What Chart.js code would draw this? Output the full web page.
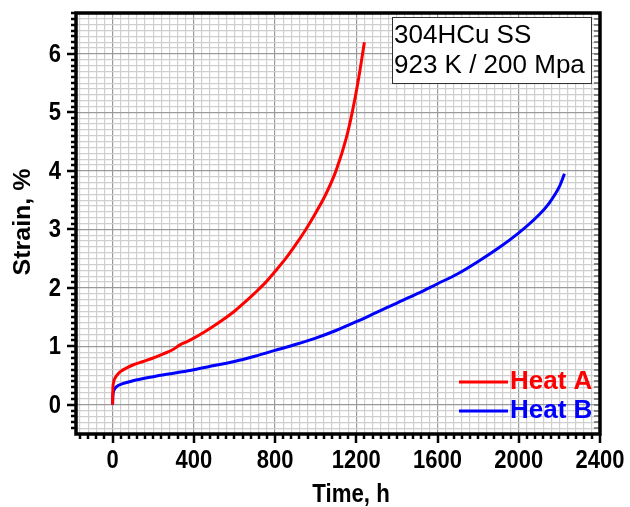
<!DOCTYPE html>
<html>
<head>
<meta charset="utf-8">
<script src="https://cdn.jsdelivr.net/npm/chart.js@4/dist/chart.umd.min.js"></script>
<style>
  html, body { margin: 0; padding: 0; background: #fff; }
  canvas { display: block; }
</style>
</head>
<body>
<canvas id="c" width="630" height="507"></canvas>
<script>
// ── data ──────────────────────────────────────────────────────────
const heatA_t = [0, 2, 5, 10, 20, 40, 70, 100, 150, 200, 250, 300, 330, 360, 400, 450, 500, 550, 600,
  650, 700, 750, 800, 850, 900, 950, 1000, 1050, 1100, 1150, 1180, 1210, 1240];
const heatA_strain = [0, 0.3, 0.38, 0.44, 0.5, 0.57, 0.63, 0.68, 0.74, 0.8, 0.87, 0.95, 1.02, 1.07, 1.14,
  1.24, 1.35, 1.47, 1.6, 1.75, 1.91, 2.08, 2.28, 2.49, 2.73, 2.99, 3.28, 3.6, 4.0, 4.55, 5.0, 5.55, 6.2];

const heatB_t = [0, 1, 3, 8, 20, 50, 100, 200, 300, 400, 500, 600, 700, 800, 900, 1000, 1100, 1200,
  1300, 1400, 1500, 1600, 1700, 1800, 1900, 2000, 2100, 2150, 2200, 2225];
const heatB_strain = [0, 0.12, 0.2, 0.26, 0.31, 0.36, 0.41, 0.48, 0.54, 0.6, 0.67, 0.74, 0.83, 0.93,
  1.03, 1.14, 1.27, 1.42, 1.58, 1.74, 1.9, 2.07, 2.24, 2.45, 2.68, 2.94, 3.25, 3.45, 3.73, 3.95];

const xTicks = [0, 400, 800, 1200, 1600, 2000, 2400];
const yTicks = [0, 1, 2, 3, 4, 5, 6];
const noteLines = ["304HCu SS", "923 K / 200 Mpa"];
const legendNames = ["Heat A", "Heat B"];
const xTitle = "Time, h";
const yTitle = "Strain, %";

const X_MIN = -180, X_MAX = 2400, X_MINOR = 40;
const Y_MIN = -0.5, Y_MAX = 6.7, Y_MINOR = 0.1;

const RED = "#ff0000", BLUE = "#0000ff";
const FONT = "'Liberation Sans', Arial, sans-serif";

const pts = (t, s) => t.map((v, i) => ({ x: v, y: s[i] }));

function minorList(min, max, step) {
  const out = [];
  const start = Math.ceil(min / step - 1e-9);
  for (let k = start; k * step <= max + 1e-9; k++) out.push(Math.round(k * step * 1000) / 1000);
  return out;
}
const isMajor = (v, list) => list.some((m) => Math.abs(m - v) < 1e-6);

// text a little narrower than the font, like the axis labels of the original
function narrowText(ctx, txt, x, y, sx) {
  ctx.save();
  ctx.translate(x, y);
  ctx.scale(sx, 1);
  ctx.fillText(txt, 0, 0);
  ctx.restore();
}

// ── frame, ticks, labels, note and legend drawn by hand ──────────
const framePlugin = {
  id: "frame",
  afterDraw(chart) {
    const { ctx, chartArea: a, scales } = chart;
    const xs = scales.x, ys = scales.y;
    ctx.save();
    ctx.strokeStyle = "#000";
    ctx.lineWidth = 2.5;
    // bottom ticks (outward)
    minorList(X_MIN, X_MAX, X_MINOR).forEach((v) => {
      if (v <= X_MIN) return;
      const px = Math.round(xs.getPixelForValue(v));
      const len = isMajor(v, xTicks) ? 9 : 5;
      ctx.beginPath(); ctx.moveTo(px, a.bottom); ctx.lineTo(px, a.bottom + len); ctx.stroke();
    });
    // left ticks (outward)
    minorList(Y_MIN, Y_MAX, Y_MINOR).forEach((v) => {
      if (v <= Y_MIN) return;
      const py = Math.round(ys.getPixelForValue(v));
      const len = isMajor(v, yTicks) ? 9 : 5;
      ctx.beginPath(); ctx.moveTo(a.left, py); ctx.lineTo(a.left - len, py); ctx.stroke();
    });
    // right inner ticks
    ctx.strokeStyle = "#666";
    ctx.lineWidth = 1.5;
    minorList(Y_MIN, Y_MAX, Y_MINOR).forEach((v) => {
      const py = Math.round(ys.getPixelForValue(v));
      ctx.beginPath(); ctx.moveTo(a.right, py); ctx.lineTo(a.right - 6, py); ctx.stroke();
    });
    // frame
    ctx.strokeStyle = "#000";
    ctx.lineWidth = 3.5;
    ctx.strokeRect(a.left, a.top, a.right - a.left, a.bottom - a.top);

    // tick labels
    ctx.fillStyle = "#000";
    ctx.font = "bold 25px " + FONT;
    ctx.textAlign = "center";
    ctx.textBaseline = "middle";
    xTicks.forEach((v) => narrowText(ctx, String(v), xs.getPixelForValue(v), a.bottom + 27, 0.88));
    ctx.textAlign = "right";
    yTicks.forEach((v) => narrowText(ctx, String(v), a.left - 15, ys.getPixelForValue(v) + 1, 0.88));

    // axis titles
    ctx.textAlign = "center";
    ctx.font = "bold 25px " + FONT;
    narrowText(ctx, xTitle, 351, 495, 0.89);
    ctx.save();
    ctx.translate(24, 222);
    ctx.rotate(-Math.PI / 2);
    ctx.scale(1, 0.92);
    ctx.font = "bold 25px " + FONT;
    ctx.fillText(yTitle, 0, 0);
    ctx.restore();

    // note box
    ctx.fillStyle = "#fff";
    ctx.fillRect(392, 17, 199, 66);
    ctx.strokeStyle = "#333";
    ctx.lineWidth = 1;
    ctx.strokeRect(392.5, 17.5, 199, 66);
    ctx.fillStyle = "#000";
    ctx.font = "26px " + FONT;
    ctx.textAlign = "left";
    ctx.fillText(noteLines[0], 394, 36);
    ctx.fillText(noteLines[1], 394, 66);

    // legend
    const cols = [RED, BLUE];
    const ly = [382, 411];
    ctx.font = "bold 26px " + FONT;
    legendNames.forEach((n, i) => {
      ctx.strokeStyle = cols[i];
      ctx.lineWidth = 3;
      ctx.beginPath(); ctx.moveTo(459, ly[i]); ctx.lineTo(508, ly[i]); ctx.stroke();
      ctx.fillStyle = cols[i];
      ctx.fillText(n, 510, ly[i]);
    });
    ctx.restore();
  },
};

new Chart(document.getElementById("c"), {
  type: "line",
  data: {
    datasets: [
      {
        label: legendNames[0],
        data: pts(heatA_t, heatA_strain),
        borderColor: RED,
        borderWidth: 3,
        pointRadius: 0,
        cubicInterpolationMode: "monotone",
      },
      {
        label: legendNames[1],
        data: pts(heatB_t, heatB_strain),
        borderColor: BLUE,
        borderWidth: 3,
        pointRadius: 0,
        cubicInterpolationMode: "monotone",
      },
    ],
  },
  options: {
    responsive: false,
    animation: false,
    layout: { padding: { left: 0, top: 13, right: 30, bottom: 0 } },
    plugins: { legend: { display: false }, tooltip: { enabled: false } },
    scales: {
      x: {
        type: "linear",
        min: X_MIN,
        max: X_MAX,
        afterBuildTicks: (s) => {
          s.ticks = minorList(X_MIN, X_MAX, X_MINOR).map((v) => ({ value: v }));
        },
        afterFit: (s) => { s.height = 73; },
        ticks: { display: false },
        grid: {
          drawTicks: false,
          color: (c) => (isMajor(c.tick.value, xTicks) ? "#9a9a9a" : "#cfcfcf"),
          lineWidth: 1.2,
        },
        border: { display: false },
      },
      y: {
        type: "linear",
        min: Y_MIN,
        max: Y_MAX,
        afterBuildTicks: (s) => {
          s.ticks = minorList(Y_MIN, Y_MAX, Y_MINOR).map((v) => ({ value: v }));
        },
        afterFit: (s) => { s.width = 76; },
        ticks: { display: false },
        grid: {
          drawTicks: false,
          color: (c) => (isMajor(c.tick.value, yTicks) ? "#9a9a9a" : "#cfcfcf"),
          lineWidth: 1.2,
        },
        border: { display: false },
      },
    },
  },
  plugins: [framePlugin],
});
</script>
</body>
</html>
